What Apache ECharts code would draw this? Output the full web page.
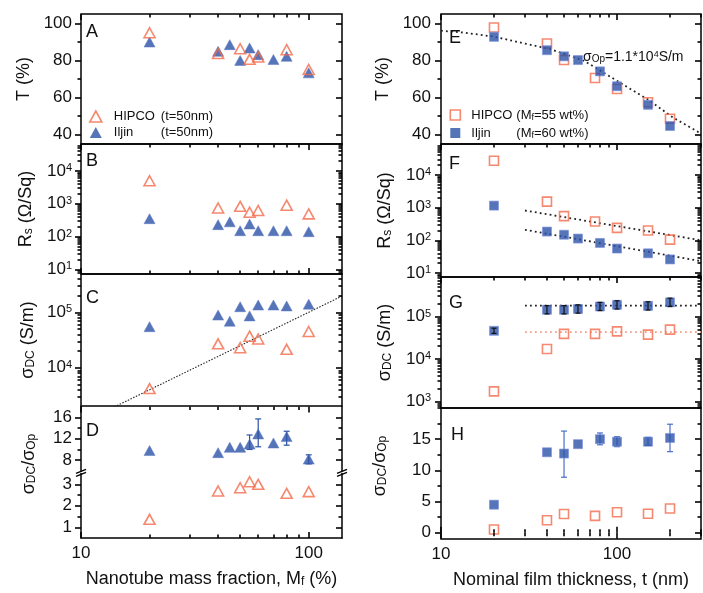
<!DOCTYPE html>
<html><head><meta charset="utf-8">
<script src="https://cdn.jsdelivr.net/npm/echarts@6/dist/echarts.min.js"></script>
<style>html,body{margin:0;padding:0;background:#fff}#c{width:703px;height:593px}</style>
</head><body><div id="c"></div>
<script>
const FONT = '"Liberation Sans", Arial, Helvetica, sans-serif';
const ORANGE = '#F26A4B';
const BLUE = '#2A52A6';
const INK = '#111111';

// ---------- Left column: x = nanotube mass fraction Mf (%) ----------
const mfHipco = [20, 40, 50, 55, 60, 80, 100];
const mfIljin = [20, 40, 45, 50, 55, 60, 70, 80, 100];
const tHipcoA = [94.9, 83.7, 86.3, 80.6, 81.9, 85.8, 75.1];
const tIljinA = [89.9, 84.9, 88.5, 80.0, 86.7, 83.1, 80.5, 82.2, 73.3];
const rsHipcoB = [5000, 740, 830, 550, 620, 900, 490];
const rsIljinB = [350, 230, 280, 150, 240, 150, 150, 150, 140];
const sdcHipcoC = [4200, 27000, 23000, 37000, 33000, 21500, 45000];
const sdcIljinC = [55000, 89000, 69000, 126000, 86000, 135000, 135000, 130000, 140000];
const fitC = [[14, 1960], [140, 196000]];
const ratioHipcoD = [1.37, 2.69, 2.84, 3.12, 3.0, 2.58, 2.66];
const ratioIljinD = [9.8, 9.4, 10.4, 10.4, 11.0, 12.9, 11.2, 12.4, 8.2];
const errIljinD = [[55, 10.0, 12.7], [60, 10.5, 15.7], [80, 10.8, 13.4], [100, 7.3, 9.0]];

// ---------- Right column: x = nominal film thickness t (nm) ----------
const tnHipco = [20, 40, 50, 75, 100, 150, 200];
const tnIljin = [20, 40, 50, 60, 80, 100, 150, 200];
const tHipcoE = [97.7, 89.1, 80.2, 70.5, 64.6, 57.5, 48.6];
const tIljinE = [92.7, 85.5, 82.2, 80.2, 74.1, 66.1, 56.1, 44.7];
const fitE = [[10, 96], [13.4, 95], [20, 92.8], [42, 86], [65, 79.8], [100, 69], [153, 58.4], [206, 49.5], [290, 41.4], [300, 40.7]];
const rsHipcoF = [27000, 1520, 550, 375, 240, 200, 105];
const rsIljinF = [1150, 185, 148, 113, 83, 56, 40, 26];
const fitFHipco = [[30, 815], [300, 100]];
const fitFIljin = [[30, 210], [300, 23]];
const sdcHipcoG = [1720, 17200, 39000, 39000, 44500, 37500, 49000];
const sdcIljinG = [46000, 144000, 144000, 150000, 172000, 188000, 178000, 215000];
const errIljinG = [[20, 40000, 53000], [40, 115000, 180000], [50, 115000, 180000], [60, 120000, 188000], [80, 138000, 215000], [100, 150000, 235000], [150, 142000, 222000], [200, 172000, 270000]];
const fitGHipco = [[30, 43000], [300, 43000]];
const fitGIljin = [[30, 180000], [300, 180000]];
const ratioHipcoH = [0.53, 2.0, 3.0, 2.7, 3.3, 3.05, 3.9];
const ratioIljinH = [4.5, 12.9, 12.7, 14.2, 15.0, 14.6, 14.6, 15.2];
const errIljinH = [[50, 8.9, 16.3], [80, 14.1, 16.0], [100, 13.8, 15.4], [150, 14.0, 15.3], [200, 13.0, 17.4]];

// ---------- tick values ----------
const xMajor = [10, 100];
const xMinorLeft = [20, 30, 40, 50, 60, 70, 80, 90];
const xMinorRight = [20, 30, 40, 50, 60, 70, 80, 90, 200, 300];
const tMajor = [40, 60, 80, 100], tMinor = [50, 70, 90];
const dUpMajor = [8, 12, 16], dUpMinor = [10, 14];
const dLoMajor = [1, 2, 3], dLoMinor = [1.5, 2.5];
const hMajor = [0, 5, 10, 15], hMinor = [2.5, 7.5, 12.5, 17.5];

const pairs = (xs, ys) => xs.map((x, i) => [x, ys[i]]);
function logMajor(lo, hi) {
  const out = [];
  for (let n = Math.ceil(Math.log10(lo)); n <= Math.floor(Math.log10(hi)); n++) out.push(Math.pow(10, n));
  return out;
}
function logMinor(lo, hi) {
  const out = [];
  for (let n = Math.floor(Math.log10(lo)); n <= Math.ceil(Math.log10(hi)); n++) {
    for (let k = 2; k <= 9; k++) { const v = k * Math.pow(10, n); if (v >= lo && v <= hi) out.push(v); }
  }
  return out;
}

// grids: [left, top, width, height]
const G = [
  [81, 14, 261, 130],
  [81, 144, 261, 130],
  [81, 274, 261, 132],
  [81, 406.6, 261, 64.3],
  [81, 473.6, 261, 64.4],
  [441, 14, 260, 130],
  [441, 144, 260, 133],
  [441, 277, 260, 131],
  [441, 408, 260, 131]
];
const panels = [
  {x: [10, 140], y: [35, 105], log: false, yMaj: tMajor, yMin: tMinor, xMin: xMinorLeft, sides: 'LRT'},
  {x: [10, 140], y: [7.2, 66000], log: true, yMaj: logMajor(7.2, 66000), yMin: logMinor(7.2, 66000), xMin: xMinorLeft, sides: 'LRTB'},
  {x: [10, 140], y: [2040, 490000], log: true, yMaj: logMajor(2040, 490000), yMin: logMinor(2040, 490000), xMin: xMinorLeft, sides: 'LR'},
  {x: [10, 140], y: [6, 18], log: false, yMaj: dUpMajor, yMin: dUpMinor, xMin: xMinorLeft, sides: 'LRT'},
  {x: [10, 140], y: [0.5, 3.5], log: false, yMaj: dLoMajor, yMin: dLoMinor, xMin: xMinorLeft, sides: 'LRB'},
  {x: [10, 300], y: [35, 105], log: false, yMaj: tMajor, yMin: tMinor, xMin: xMinorRight, sides: 'LRT'},
  {x: [10, 300], y: [7.55, 88000], log: true, yMaj: logMajor(7.55, 88000), yMin: logMinor(7.55, 88000), xMin: xMinorRight, sides: 'LRT'},
  {x: [10, 300], y: [700, 851000], log: true, yMaj: logMajor(700, 851000), yMin: logMinor(700, 851000), xMin: xMinorRight, sides: 'LRT'},
  {x: [10, 300], y: [-1, 20], log: false, yMaj: hMajor, yMin: hMinor, xMin: xMinorRight, sides: 'LRTB'}
];
const yInterval = [5, null, null, 2, 0.5, 5, null, null, 1];
const yLabelFilter = [
  v => v % 20 === 0 ? String(v) : '',
  null, null,
  v => (v === 8 || v === 12 || v === 16) ? String(v) : '',
  v => Number.isInteger(v) ? String(v) : '',
  v => v % 20 === 0 ? String(v) : '',
  null, null,
  v => (v % 5 === 0 && v < 20) ? String(v) : ''
];
function powLabel(v) {
  const e = Math.log10(v), r = Math.round(e);
  if (Math.abs(e - r) > 1e-6) return '';
  return '{b|10}{s|' + r + '}';
}
function powX(v) {
  const e = Math.log10(v), r = Math.round(e);
  if (Math.abs(e - r) > 1e-6) return '';
  return String(Math.round(v));
}

const grid = G.map((g, i) => ({
  left: g[0], top: g[1], width: g[2], height: g[3],
  show: !(i === 3 || i === 4), borderColor: '#000', borderWidth: 1.5, backgroundColor: 'transparent',
  containLabel: false, outerBoundsMode: 'none'
}));

const nameStyle = {
  fontFamily: FONT, fontSize: 18, color: INK,
  rich: {n: {fontFamily: FONT, fontSize: 18, color: INK}, sub: {fontFamily: FONT, fontSize: 12, color: INK, verticalAlign: 'bottom'}}
};
const yNames = ['T (%)', '{n|R}{sub|s}{n| (Ω/Sq)}', '{n|σ}{sub|DC}{n| (S/m)}', '', '', 'T (%)', '{n|R}{sub|s}{n| (Ω/Sq)}', '{n|σ}{sub|DC}{n| (S/m)}', ''];
const yGaps = [48, 46, 44, 0, 0, 49, 47, 47, 0];
const MAJ = 6, MIN = 3.5;
const tickLine = {color: '#000', width: 1.6};
const lineSt = {color: '#000', width: 1.5};

const xAxis = panels.map((p, i) => {
  const ax = {
    type: 'log', logBase: 10, gridIndex: i, min: p.x[0], max: p.x[1], z: 10,
    axisLine: {show: i === 4, lineStyle: lineSt},
    axisTick: {show: p.sides.includes('B'), inside: true, length: MAJ, customValues: xMajor, lineStyle: tickLine},
    minorTick: {show: false}, splitLine: {show: false},
    axisLabel: {show: i === 4 || i === 8, formatter: powX, margin: 7, fontFamily: FONT, fontSize: 17, color: INK}
  };
  if (i === 4 || i === 8) {
    ax.name = i === 4 ? '{n|Nanotube mass fraction, M}{sub|f}{n| (%)}' : 'Nominal film thickness, t (nm)';
    ax.nameLocation = 'middle'; ax.nameGap = 32; ax.nameTextStyle = nameStyle;
  }
  return ax;
});
const yAxis = panels.map((p, i) => {
  const ax = {
    type: p.log ? 'log' : 'value', gridIndex: i, min: p.y[0], max: p.y[1], z: 10,
    axisLine: {show: i === 3 || i === 4, lineStyle: lineSt},
    axisTick: {show: true, inside: false, length: MAJ, customValues: p.yMaj, lineStyle: tickLine},
    minorTick: {show: false}, splitLine: {show: false},
    axisLabel: {
      formatter: p.log ? powLabel : yLabelFilter[i], margin: i >= 5 ? 10 : 9,
      fontFamily: FONT, fontSize: 17, color: INK,
      rich: {b: {fontFamily: FONT, fontSize: 17, color: INK}, s: {fontFamily: FONT, fontSize: 11, color: INK, verticalAlign: 'top'}}
    }
  };
  if (yNames[i]) {
    ax.name = yNames[i]; ax.nameLocation = 'middle'; ax.nameRotate = 90; ax.nameGap = yGaps[i]; ax.nameTextStyle = nameStyle;
  }
  if (p.log) ax.logBase = 10; else ax.interval = yInterval[i];
  return ax;
});
// extra axes carrying only tick marks (and the side lines of the broken panel D)
function extraY(i, pos, vals, len, inside, showLine) {
  const p = panels[i];
  const ax = {type: p.log ? 'log' : 'value', gridIndex: i, position: pos, min: p.y[0], max: p.y[1], z: 10,
    axisLine: {show: showLine, lineStyle: lineSt}, axisLabel: {show: false}, splitLine: {show: false}, minorTick: {show: false},
    axisTick: {show: true, inside, length: len, customValues: vals, lineStyle: tickLine}};
  if (p.log) ax.logBase = 10;
  yAxis.push(ax);
}
function extraX(i, pos, vals, len) {
  const p = panels[i];
  xAxis.push({type: 'log', logBase: 10, gridIndex: i, position: pos, min: p.x[0], max: p.x[1], z: 10,
    axisLine: {show: false}, axisLabel: {show: false}, splitLine: {show: false}, minorTick: {show: false},
    axisTick: {show: true, inside: true, length: len, customValues: vals, lineStyle: tickLine}});
}
panels.forEach((p, i) => {
  extraY(i, 'left', p.yMin, MIN, false, false);
  extraY(i, 'right', p.yMaj, MAJ, true, i === 3 || i === 4);
  extraY(i, 'right', p.yMin, MIN, true, false);
  if (p.sides.includes('T')) { extraX(i, 'top', xMajor, MAJ); extraX(i, 'top', p.xMin, MIN); }
  if (p.sides.includes('B')) extraX(i, 'bottom', p.xMin, MIN);
});

const hollowTri = (i, xs, ys) => ({type: 'scatter', name: 'HIPCO-t', xAxisIndex: i, yAxisIndex: i, symbol: 'triangle', symbolSize: [11, 10],
  data: pairs(xs, ys), itemStyle: {color: 'rgba(255,255,255,0)', borderColor: ORANGE, borderWidth: 1.6}, z: 4});
const fullTri = (i, xs, ys) => ({type: 'scatter', name: 'Iljin-t', xAxisIndex: i, yAxisIndex: i, symbol: 'triangle', symbolSize: [11, 10],
  data: pairs(xs, ys), itemStyle: {color: BLUE, borderColor: '#5b73c4', borderWidth: 0.6}, z: 3});
const hollowSq = (i, xs, ys) => ({type: 'scatter', name: 'HIPCO-M', xAxisIndex: i, yAxisIndex: i, symbol: 'rect', symbolSize: 9,
  data: pairs(xs, ys), itemStyle: {color: 'rgba(255,255,255,0)', borderColor: ORANGE, borderWidth: 1.6}, z: 3});
const fullSq = (i, xs, ys) => ({type: 'scatter', name: 'Iljin-M', xAxisIndex: i, yAxisIndex: i, symbol: 'rect', symbolSize: 9,
  data: pairs(xs, ys), itemStyle: {color: BLUE, borderColor: '#7d8fe0', borderWidth: 0.8}, z: 4});
const fit = (i, data, color, w, dash) => ({type: 'line', name: 'fit', xAxisIndex: i, yAxisIndex: i, data, symbol: 'none', showSymbol: false,
  lineStyle: {color, width: w, type: dash, cap: 'butt'}, z: 2, silent: true, clip: true});
function errBars(i, data, color, z, cap) {
  return {type: 'custom', name: 'err', xAxisIndex: i, yAxisIndex: i, data, z, silent: true, clip: false,
    encode: {x: 0, y: [1, 2]},
    renderItem(params, api) {
      const x = api.value(0), a = api.coord([x, api.value(1)]), b = api.coord([x, api.value(2)]);
      const st = {stroke: color, lineWidth: 1.2, fill: null};
      return {type: 'group', children: [
        {type: 'line', shape: {x1: a[0], y1: a[1], x2: b[0], y2: b[1]}, style: st},
        {type: 'line', shape: {x1: a[0] - cap, y1: a[1], x2: a[0] + cap, y2: a[1]}, style: st},
        {type: 'line', shape: {x1: b[0] - cap, y1: b[1], x2: b[0] + cap, y2: b[1]}, style: st}
      ]};
    }};
}

const DOT = [1.8, 3.2];
const series = [
  fullTri(0, mfIljin, tIljinA), hollowTri(0, mfHipco, tHipcoA),
  fullTri(1, mfIljin, rsIljinB), hollowTri(1, mfHipco, rsHipcoB),
  fit(2, fitC, '#222', 1.1, [1.5, 1.5]),
  fullTri(2, mfIljin, sdcIljinC), hollowTri(2, mfHipco, sdcHipcoC),
  errBars(3, errIljinD, BLUE, 2, 3),
  fullTri(3, mfIljin, ratioIljinD),
  hollowTri(4, mfHipco, ratioHipcoD),
  fit(5, fitE, '#222', 1.8, DOT),
  hollowSq(5, tnHipco, tHipcoE), fullSq(5, tnIljin, tIljinE),
  fit(6, fitFHipco, '#222', 1.8, DOT), fit(6, fitFIljin, '#222', 1.8, DOT),
  hollowSq(6, tnHipco, rsHipcoF), fullSq(6, tnIljin, rsIljinF),
  fit(7, fitGIljin, '#222', 1.8, DOT), fit(7, fitGHipco, '#F5A08A', 1.8, DOT),
  hollowSq(7, tnHipco, sdcHipcoG), fullSq(7, tnIljin, sdcIljinG),
  errBars(7, errIljinG, '#111', 5, 2.5),
  errBars(8, errIljinH, '#4a6fc8', 2, 3),
  hollowSq(8, tnHipco, ratioHipcoH), fullSq(8, tnIljin, ratioIljinH)
];

const legTxt = {fontFamily: FONT, fontSize: 13, color: INK, lineHeight: 14};
const legend = [
  {left: 89, top: 109.5, orient: 'vertical', padding: 0, itemWidth: 12, itemHeight: 11, itemGap: 2, selectedMode: false,
    data: [
      {name: 'HIPCO-t', icon: 'triangle', itemStyle: {color: 'rgba(255,255,255,0)', borderColor: ORANGE, borderWidth: 1.6}},
      {name: 'Iljin-t', icon: 'triangle', itemStyle: {color: BLUE, borderWidth: 0}}
    ],
    formatter: n => n === 'HIPCO-t' ? '{a|HIPCO}{b|(t=50nm)}' : '{a|Iljin}{b|(t=50nm)}',
    textStyle: Object.assign({}, legTxt, {rich: {a: Object.assign({}, legTxt, {width: 47, padding: [0, 0, 0, 7]}), b: legTxt}})
  },
  {left: 449.5, top: 108, orient: 'vertical', padding: 0, itemWidth: 10, itemHeight: 10, itemGap: 4, selectedMode: false,
    data: [
      {name: 'HIPCO-M', icon: 'rect', itemStyle: {color: 'rgba(255,255,255,0)', borderColor: ORANGE, borderWidth: 1.6}},
      {name: 'Iljin-M', icon: 'rect', itemStyle: {color: BLUE, borderWidth: 0}}
    ],
    formatter: n => n === 'HIPCO-M' ? '{a|HIPCO}{b|(M}{c|f}{b|=55 wt%)}' : '{a|Iljin}{b|(M}{c|f}{b|=60 wt%)}',
    textStyle: Object.assign({}, legTxt, {rich: {
      a: Object.assign({}, legTxt, {width: 45, padding: [0, 0, 0, 6]}), b: legTxt,
      c: Object.assign({}, legTxt, {fontSize: 9, verticalAlign: 'bottom'})}})
  }
];

const letter = (t, x, y) => ({type: 'text', x, y, z: 100, silent: true,
  style: {text: t, fontFamily: FONT, fontSize: 18, fill: INK, textVerticalAlign: 'middle', verticalAlign: 'middle'}});
const richT = {n: {fontFamily: FONT, fontSize: 18, color: INK}, sub: {fontFamily: FONT, fontSize: 12, color: INK, verticalAlign: 'bottom'}};
const vtitle = (x, y) => ({type: 'text', x, y, rotation: Math.PI / 2, z: 100, silent: true,
  style: {text: '{n|σ}{sub|DC}{n|/σ}{sub|Op}', rich: richT, fontFamily: FONT, fontSize: 18, fill: INK,
    textAlign: 'center', align: 'center', textVerticalAlign: 'middle', verticalAlign: 'middle'}});
const brk = (x, y) => ({type: 'group', z: 100, silent: true, children: [
  {type: 'line', shape: {x1: x - 5, y1: y + 1, x2: x + 5, y2: y - 3}, style: {stroke: '#000', lineWidth: 1.3}},
  {type: 'line', shape: {x1: x - 5, y1: y + 4, x2: x + 5, y2: y}, style: {stroke: '#000', lineWidth: 1.3}}
]});
const graphic = [
  letter('A', 86, 31.7), letter('B', 86, 161.5), letter('C', 86, 298), letter('D', 86, 431),
  letter('E', 449, 38.3), letter('F', 449, 164), letter('G', 449, 303.5), letter('H', 451, 435.5),
  vtitle(29, 464), vtitle(380, 466),
  brk(81, 472.3), brk(342, 472.3),
  {type: 'text', x: 583, y: 57, z: 100, silent: true, style: {
    text: '{n|σ}{sub|Op}{n|=1.1*10}{sup|4}{n|S/m}', fontFamily: FONT, fontSize: 14, fill: INK,
    textVerticalAlign: 'middle', verticalAlign: 'middle',
    rich: {n: {fontFamily: FONT, fontSize: 14, color: INK}, sub: {fontFamily: FONT, fontSize: 10, color: INK, verticalAlign: 'bottom'},
      sup: {fontFamily: FONT, fontSize: 9, color: INK, verticalAlign: 'top'}}
  }}
];

const chart = echarts.init(document.getElementById('c'), null, {renderer: 'canvas'});
chart.setOption({
  animation: false, backgroundColor: '#fff',
  textStyle: {fontFamily: FONT},
  grid, xAxis, yAxis, series, legend, graphic
});
</script></body></html>
